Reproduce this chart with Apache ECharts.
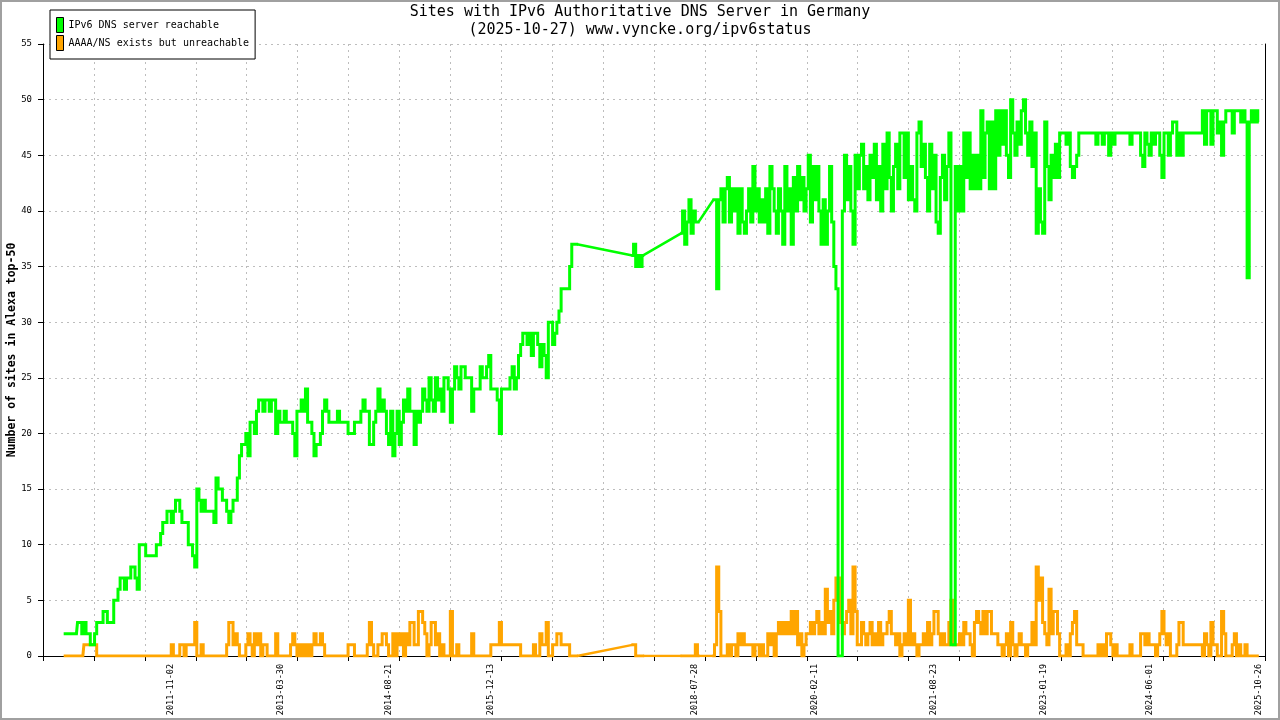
<!DOCTYPE html>
<html>
<head>
<meta charset="utf-8">
<title>Sites with IPv6 Authoritative DNS Server in Germany</title>
<script src="https://cdn.jsdelivr.net/npm/echarts@6/dist/echarts.min.js"></script>
<style>
  html, body { margin: 0; padding: 0; background: #fff; }
  #dns-chart { width: 1280px; height: 720px; }
</style>
</head>
<body>
<div id="dns-chart"></div>
<script>
// x axis runs in days since axisStart, one sample every stepDays from firstSample
var axisStart = '2010-03-12';
var axisDays = 5736;
var firstSample = '2010-06-17';
var stepDays = 10;

var tickLabels = ['2011-11-02', '2013-03-30', '2014-08-21', '2015-12-13', '2018-07-28',
  '2020-02-11', '2021-08-23', '2023-01-19', '2024-06-01', '2025-10-26'];

var yTicks = [0, 55, 5];   // min, max, step

// IPv6 DNS server reachable (null = no measurement)
var reachable = [
  2, 2, 2, 2, 2, 2, 2, 3, 3, 2,
  3, 2, 2, 1, 1, 2, 3, 3, 3, 4,
  4, 3, 3, 3, 5, 5, 6, 7, 7, 6,
  7, 7, 8, 8, 7, 6, 10, 10, 10, 9,
  9, 9, 9, 9, 10, 10, 11, 12, 12, 13,
  13, 12, 13, 14, 14, 13, 12, 12, 12, 10,
  10, 9, 8, 15, 14, 13, 14, 13, 13, 13,
  13, 12, 16, 15, 15, 14, 14, 13, 12, 13,
  14, 14, 16, 18, 19, 19, 20, 18, 21, 21,
  20, 22, 23, 23, 22, 23, 23, 22, 23, 23,
  20, 22, 21, 21, 22, 21, 21, 21, 20, 18,
  22, 22, 23, 22, 24, 21, 21, 20, 18, 19,
  19, 20, 22, 23, 22, 21, 21, 21, 21, 22,
  21, 21, 21, 21, 20, 20, 20, 21, 21, 21,
  22, 23, 22, 22, 19, 19, 21, 22, 24, 22,
  23, 22, 20, 19, 22, 18, 20, 22, 19, 21,
  23, 22, 24, 22, 22, 19, 22, 21, 22, 24,
  23, 22, 25, 23, 22, 25, 23, 24, 22, 25,
  25, 24, 21, 24, 26, 25, 24, 26, 26, 25,
  25, 25, 22, 24, 24, 24, 26, 25, 25, 26,
  27, 24, 24, 24, 23, 20, 24, 24, 24, 24,
  25, 26, 24, 25, 27, 28, 29, 29, 28, 29,
  27, 29, 29, 28, 26, 28, 27, 25, 30, 30,
  28, 29, 30, 31, 33, 33, 33, 33, 35, 37,
  37, 37, null, null, null, null, null, null, null, null,
  null, null, null, null, null, null, null, null, null, null,
  null, null, null, null, null, null, null, 36, 37, 35,
  36, 35, 36, null, null, null, null, null, null, null,
  null, null, null, null, null, null, null, null, null, null,
  38, 40, 37, 39, 41, 38, 40, 39, 39, null,
  null, null, null, null, null, 41, 41, 33, 41, 42,
  39, 42, 43, 39, 42, 40, 42, 38, 42, 39,
  38, 40, 42, 39, 44, 40, 42, 39, 41, 39,
  42, 38, 44, 42, 40, 38, 42, 40, 37, 44,
  40, 42, 37, 43, 40, 44, 41, 43, 40, 42,
  45, 39, 44, 41, 44, 40, 37, 41, 37, 40,
  44, 39, 35, 33, 0, 0, 40, 45, 41, 44,
  40, 37, 45, 42, 45, 46, 42, 44, 41, 45,
  43, 46, 41, 44, 40, 46, 42, 47, 43, 40,
  44, 46, 42, 47, 47, 43, 47, 41, 44, 41,
  40, 47, 48, 44, 46, 43, 40, 46, 42, 45,
  39, 38, 43, 45, 41, 44, 47, 1, 1, 44,
  40, 44, 40, 47, 43, 47, 42, 45, 42, 45,
  42, 49, 43, 47, 48, 42, 48, 42, 49, 45,
  49, 46, 49, 45, 43, 50, 47, 45, 48, 46,
  49, 50, 47, 45, 48, 44, 47, 38, 42, 39,
  38, 48, 44, 41, 45, 43, 46, 43, 47, 47,
  47, 46, 47, 44, 43, 44, 45, 47, 47, 47,
  47, 47, 47, 47, 47, 46, 47, 47, 46, 47,
  47, 45, 47, 46, 47, 47, 47, 47, 47, 47,
  47, 46, 47, 47, 47, 47, 45, 44, 47, 46,
  45, 47, 46, 47, 47, 45, 43, 47, 47, 45,
  47, 48, 48, 45, 47, 45, 47, 47, 47, 47,
  47, 47, 47, 47, 47, 49, 46, 49, 49, 46,
  49, 49, 47, 48, 45, 48, 49, 49, 49, 47,
  49, 49, 49, 48, 49, 48, 34, 48, 49, 48,
  49, 48
];

// AAAA/NS exists but unreachable
var unreachable = [
  0, 0, 0, 0, 0, 0, 0, 0, 0, 0,
  1, 1, 1, 1, 1, 1, 0, 0, 0, 0,
  0, 0, 0, 0, 0, 0, 0, 0, 0, 0,
  0, 0, 0, 0, 0, 0, 0, 0, 0, 0,
  0, 0, 0, 0, 0, 0, 0, 0, 0, 0,
  0, 1, 0, 0, 0, 1, 1, 0, 1, 1,
  1, 1, 3, 0, 0, 1, 0, 0, 0, 0,
  0, 0, 0, 0, 0, 0, 0, 1, 3, 3,
  1, 2, 1, 0, 0, 0, 1, 2, 1, 0,
  2, 1, 2, 0, 1, 1, 0, 0, 0, 0,
  2, 0, 0, 0, 0, 0, 0, 1, 2, 1,
  0, 1, 0, 1, 0, 1, 0, 1, 2, 1,
  1, 2, 1, 0, 0, 0, 0, 0, 0, 0,
  0, 0, 0, 0, 1, 1, 1, 0, 0, 0,
  0, 0, 0, 1, 3, 1, 0, 0, 1, 1,
  2, 2, 1, 0, 0, 2, 0, 2, 1, 2,
  0, 2, 1, 3, 3, 1, 1, 4, 4, 3,
  2, 0, 1, 3, 3, 1, 2, 0, 1, 0,
  0, 0, 4, 0, 0, 1, 0, 0, 0, 0,
  0, 0, 2, 0, 0, 0, 0, 0, 0, 0,
  0, 1, 1, 1, 1, 3, 1, 1, 1, 1,
  1, 1, 1, 1, 1, 0, 0, 0, 0, 0,
  0, 1, 0, 0, 2, 1, 1, 3, 0, 0,
  1, 1, 2, 2, 1, 1, 1, 1, 0, 0,
  0, 0, null, null, null, null, null, null, null, null,
  null, null, null, null, null, null, null, null, null, null,
  null, null, null, null, null, null, null, 1, 1, 0,
  0, 0, 0, null, null, null, null, null, null, null,
  null, null, null, null, null, null, null, null, null, null,
  0, 0, 0, 0, 0, 0, 0, 1, 0, null,
  null, null, null, null, null, 0, 1, 8, 4, 0,
  0, 0, 1, 0, 1, 1, 0, 2, 1, 2,
  1, 1, 1, 1, 0, 1, 1, 0, 1, 0,
  0, 2, 1, 2, 0, 2, 3, 2, 3, 2,
  3, 2, 4, 2, 4, 1, 2, 0, 1, 2,
  2, 3, 2, 3, 4, 2, 3, 2, 6, 3,
  4, 2, 5, 7, 7, 3, 2, 3, 4, 5,
  2, 8, 4, 1, 1, 3, 2, 1, 2, 3,
  1, 2, 1, 3, 1, 2, 2, 3, 4, 2,
  2, 1, 2, 0, 1, 2, 1, 5, 1, 2,
  1, 0, 1, 1, 2, 1, 3, 1, 2, 4,
  4, 2, 1, 2, 1, 1, 3, 5, 1, 1,
  1, 2, 1, 3, 2, 2, 1, 0, 3, 4,
  3, 2, 4, 2, 4, 4, 2, 2, 2, 1,
  1, 0, 1, 2, 0, 3, 1, 0, 1, 2,
  1, 1, 0, 1, 1, 3, 1, 8, 5, 7,
  3, 2, 1, 6, 2, 4, 4, 2, 0, 0,
  0, 1, 0, 2, 3, 4, 1, 1, 1, 0,
  0, 0, 0, 0, 0, 0, 1, 0, 1, 0,
  2, 2, 1, 0, 1, 0, 0, 0, 0, 0,
  0, 1, 0, 0, 0, 0, 2, 2, 1, 2,
  1, 1, 1, 0, 1, 2, 4, 2, 1, 2,
  0, 0, 0, 1, 3, 3, 1, 1, 1, 1,
  1, 1, 1, 1, 1, 0, 2, 1, 0, 3,
  1, 1, 0, 0, 4, 2, 0, 0, 0, 1,
  2, 0, 1, 0, 0, 1, 0, 0, 0, 0,
  0, 0
];

function dayOf(s) {
  var p = s.split('-');
  var a = axisStart.split('-');
  return Math.round((Date.UTC(+p[0], p[1] - 1, +p[2]) - Date.UTC(+a[0], a[1] - 1, +a[2])) / 86400000);
}

// measured samples; null values stay in so the stepped line breaks there
function toPoints(values) {
  var first = dayOf(firstSample);
  return values.map(function (v, i) { return [first + i * stepDays, v]; });
}

// straight lines across the periods without measurements
function gapBridges(values) {
  var pts = toPoints(values);
  var out = [];
  var last = null;
  pts.forEach(function (p, i) {
    if (p[1] === null) return;
    if (last !== null && last < i - 1) {
      out.push(pts[last], p, [p[0], null]);
    }
    last = i;
  });
  return out;
}

var labelByDay = {};
tickLabels.forEach(function (t) { labelByDay[dayOf(t)] = t; });

var mono = 'DejaVu Sans Mono';
var gridLine = { color: '#bdbdbd', width: 1, type: [2, 4] };
var titleStyle = { fontFamily: mono, fontSize: 15, fontWeight: 'normal', color: '#000' };

var seriesDefs = [
  { name: 'AAAA/NS exists but unreachable', color: '#ffa500', values: unreachable },
  { name: 'IPv6 DNS server reachable', color: '#00ff00', values: reachable }
];

var series = [];
seriesDefs.forEach(function (s) {
  series.push({
    name: s.name,
    type: 'line',
    step: 'middle',
    data: toPoints(s.values),
    connectNulls: false,
    showSymbol: false,
    color: s.color,
    lineStyle: { width: 3, color: s.color, join: 'miter' }
  }, {
    name: s.name,
    type: 'line',
    data: gapBridges(s.values),
    connectNulls: false,
    showSymbol: false,
    color: s.color,
    lineStyle: { width: 2.5, color: s.color }
  });
});

var dom = document.getElementById('dns-chart');
var myChart = echarts.init(dom, null, { renderer: 'canvas' });

var option = {
  backgroundColor: '#fff',
  animation: false,
  title: [{
    text: 'Sites with IPv6 Authoritative DNS Server in Germany',
    left: 'center',
    top: 5,
    padding: 0,
    textStyle: titleStyle
  }, {
    text: '(2025-10-27) www.vyncke.org/ipv6status',
    left: 'center',
    top: 23,
    padding: 0,
    textStyle: titleStyle
  }],
  legend: {
    orient: 'vertical',
    left: 50,
    top: 10,
    padding: [7, 6, 8, 6],
    itemGap: 2,
    itemWidth: 7,
    itemHeight: 15,
    icon: 'rect',
    backgroundColor: '#fff',
    borderColor: '#000',
    borderWidth: 1,
    borderRadius: 0,
    data: ['IPv6 DNS server reachable', 'AAAA/NS exists but unreachable'],
    itemStyle: { borderColor: '#000', borderWidth: 1 },
    textStyle: { fontFamily: mono, fontSize: 10, color: '#000' }
  },
  grid: { left: 43, right: 15, top: 44, bottom: 64, outerBoundsMode: 'none' },
  xAxis: {
    type: 'value',
    min: 0,
    max: axisDays,
    interval: axisDays / 24,
    axisLine: { lineStyle: { color: '#000', width: 1 } },
    axisTick: { show: true, length: 5, lineStyle: { color: '#000' } },
    splitLine: { show: true, lineStyle: gridLine },
    axisLabel: {
      customValues: tickLabels.map(dayOf),
      rotate: 90,
      margin: 8,
      fontFamily: mono,
      fontSize: 8.5,
      color: '#000',
      formatter: function (v) { return labelByDay[v] || ''; }
    }
  },
  yAxis: [{
    type: 'value',
    min: yTicks[0],
    max: yTicks[1],
    interval: yTicks[2],
    name: 'Number of sites in Alexa top-50',
    nameLocation: 'middle',
    nameGap: 25,
    nameMoveOverlap: false,
    nameTextStyle: { fontFamily: mono, fontSize: 11.5, fontWeight: 'bold', color: '#000' },
    axisLine: { show: true, lineStyle: { color: '#000', width: 1 } },
    axisTick: { show: true, length: 5, lineStyle: { color: '#000' } },
    splitLine: { show: true, lineStyle: gridLine },
    axisLabel: { margin: 11, fontFamily: mono, fontSize: 9, color: '#000' }
  }, {
    type: 'value',
    position: 'right',
    min: yTicks[0],
    max: yTicks[1],
    axisLine: { show: true, lineStyle: { color: '#000', width: 1 } },
    axisTick: { show: false },
    axisLabel: { show: false },
    splitLine: { show: false }
  }],
  graphic: [{
    type: 'rect',
    silent: true,
    shape: { x: 1, y: 1, width: 1278, height: 718 },
    style: { fill: null, stroke: '#a0a0a0', lineWidth: 2 }
  }],
  series: series
};

myChart.setOption(option);
window.addEventListener('resize', myChart.resize);
</script>
</body>
</html>
